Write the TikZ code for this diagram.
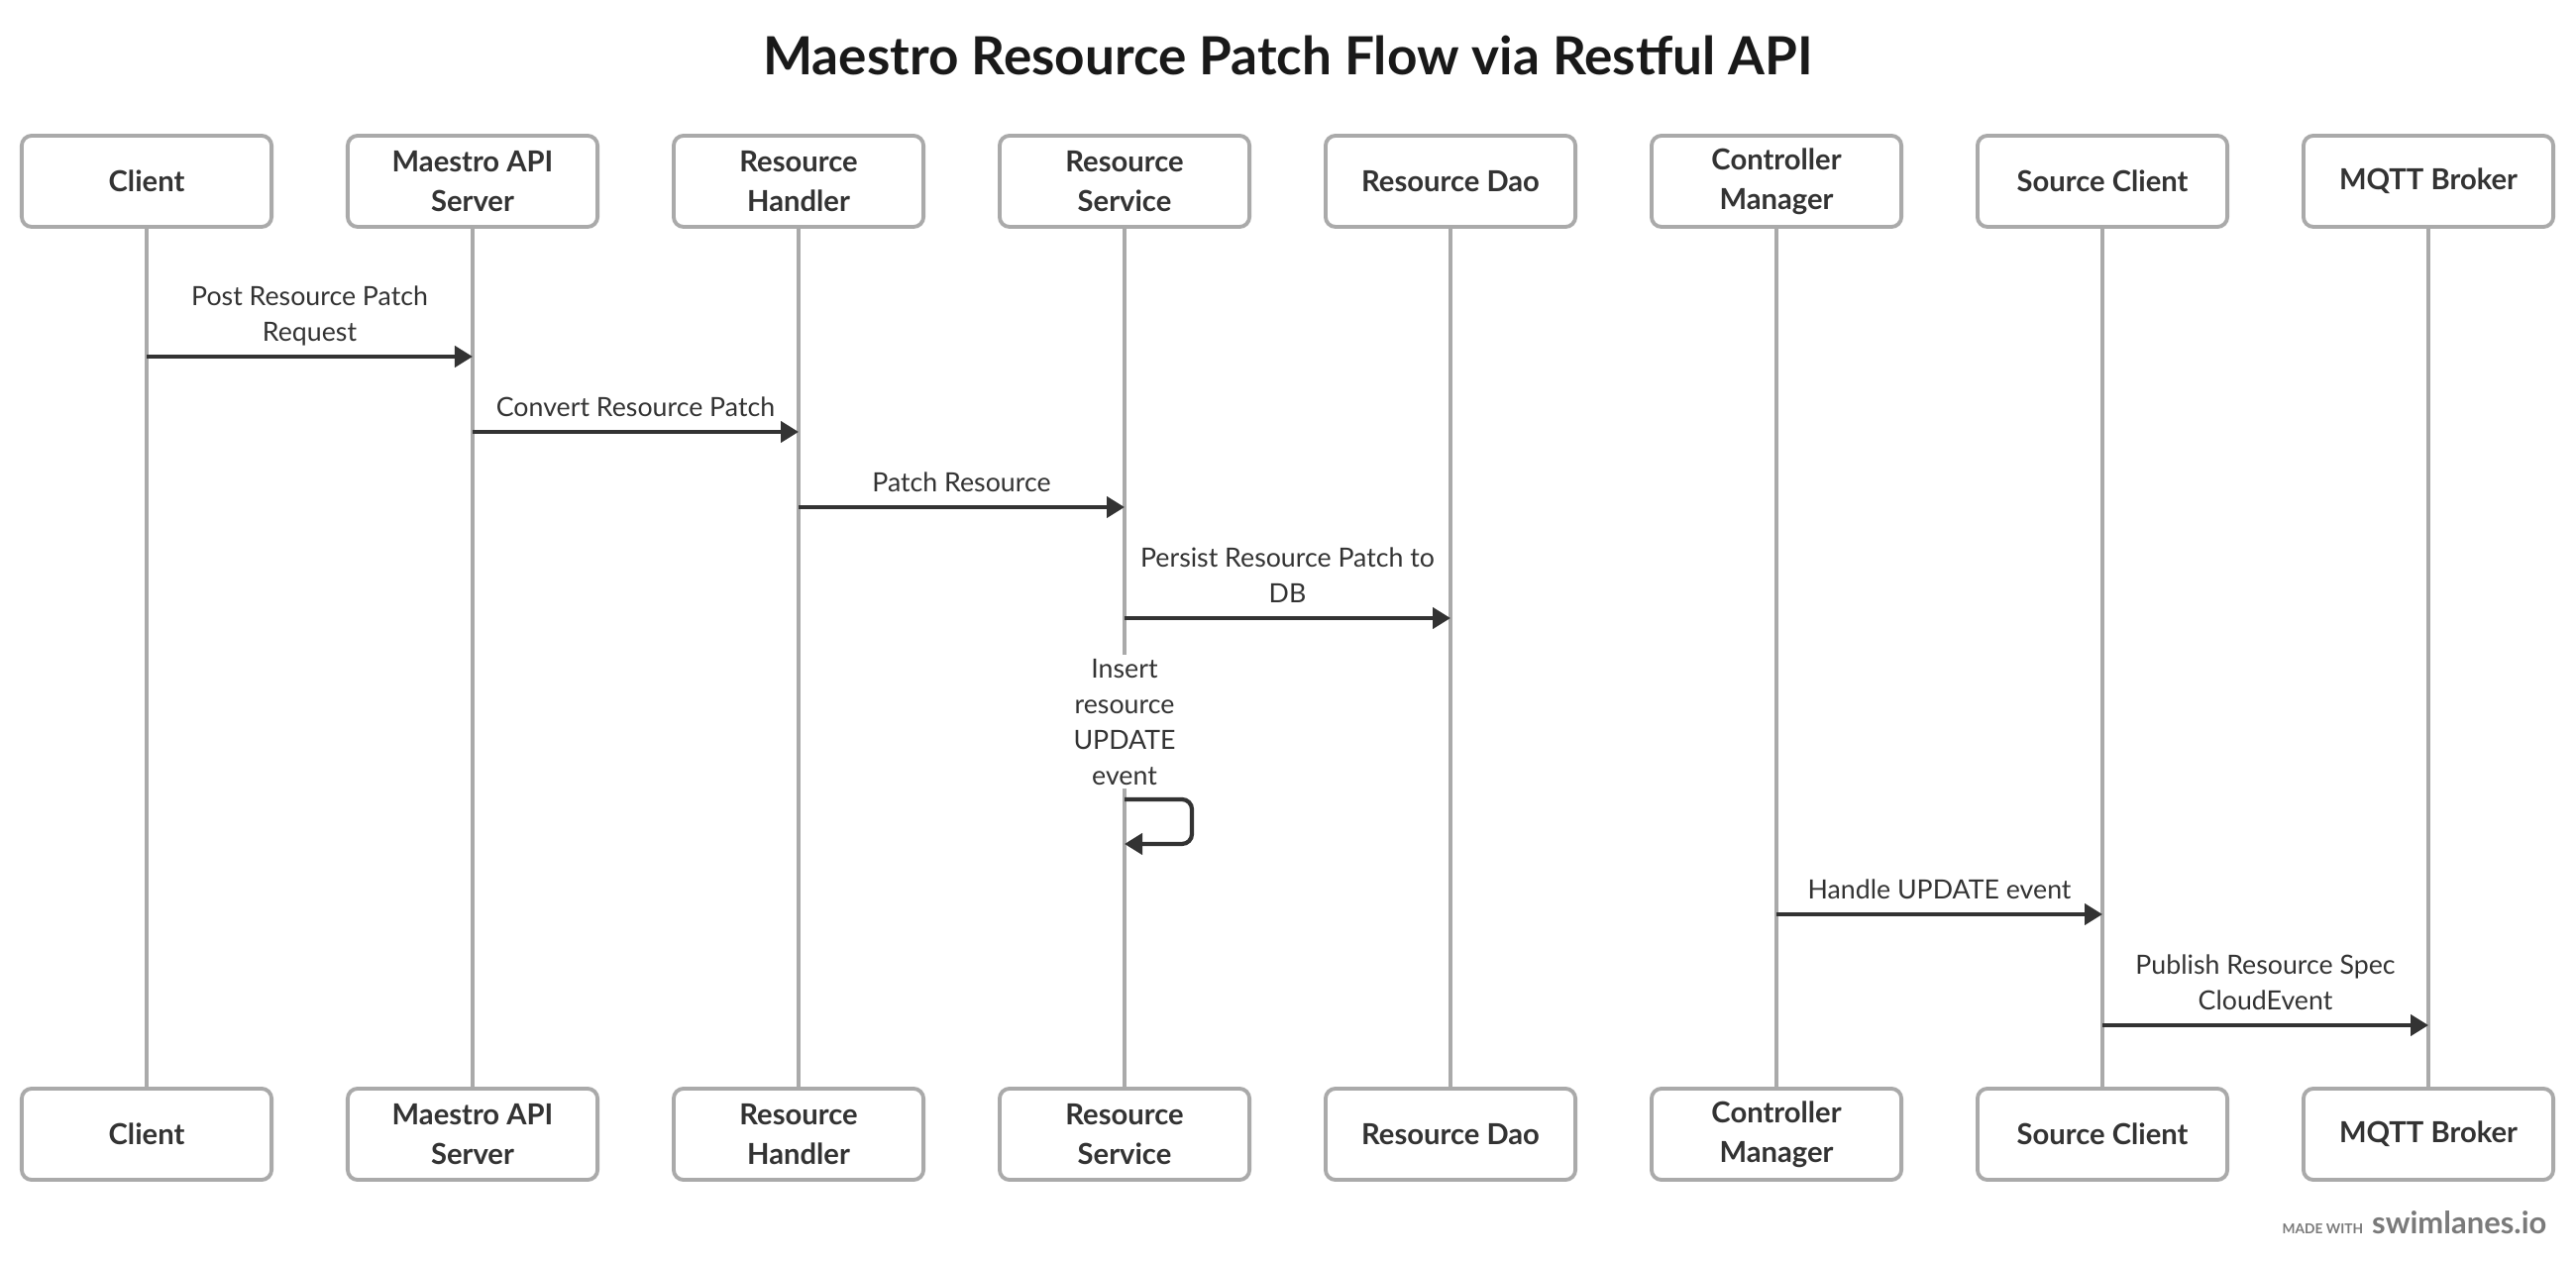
\documentclass[tikz,border=0pt]{standalone}
\usepackage{fontspec}
\setmainfont{Lato}
\usetikzlibrary{arrows.meta}
\definecolor{lifegray}{HTML}{AAAAAA}
\definecolor{inkgray}{HTML}{333333}
\definecolor{footgray}{HTML}{7A7A7A}

\begin{document}
\begin{tikzpicture}[x=0.01cm, y=-0.01cm,
		actor/.style={draw=lifegray, line width=1.1pt, rounded corners=0.1cm, fill=white,
			minimum width=2.52cm, minimum height=0.92cm, inner sep=0pt, align=center,
			text=inkgray, font=\bfseries\fontsize{8.3}{11.4}\selectfont},
		life/.style={draw=lifegray, line width=1pt},
		msg/.style={draw=inkgray, line width=1.2pt, -{Triangle[length=0.18cm, width=0.21cm]}},
		lbl/.style={text=inkgray, align=center, inner sep=0pt, font=\fontsize{7.6}{10.2}\selectfont}]
	\useasboundingbox (0,0) rectangle (2600,1274);

	\node[anchor=base, text=black!90, font=\bfseries\fontsize{15.1}{18}\selectfont] (title) at (1300,76)
		{Maestro Resource Patch Flow via Restful API};

	% participants, top and bottom, with their lifelines
	\foreach \name/\x/\txt in {client/148/Client, api/477/Maestro API\\Server,
			handler/806/Resource\\Handler, service/1135/Resource\\Service,
			dao/1464/Resource Dao, ctrl/1793/Controller\\Manager,
			source/2122/Source Client, mqtt/2451/MQTT Broker} {
		\node[actor] (\name) at (\x,183) {\txt};
		\node[actor] (\name-b) at (\x,1145) {\txt};
		\draw[life] (\name) -- (\name-b);
	}

	% message rows
	\foreach \r/\y in {1/360, 2/436, 3/512, 4/624, 5/807, 6/923, 7/1035}
		\coordinate (row\r) at (0,\y);

	\draw[msg] (client |- row1) -- node[lbl, above=0.085cm] {Post Resource Patch\\Request} (api |- row1);
	\draw[msg] (api |- row2) -- node[lbl, above=0.135cm] {Convert Resource Patch} (handler |- row2);
	\draw[msg] (handler |- row3) -- node[lbl, above=0.135cm] {Patch Resource} (service |- row3);
	\draw[msg] (service |- row4) -- node[lbl, above=0.135cm] {Persist Resource Patch to\\DB} (dao |- row4);

	\node[lbl, fill=white, inner ysep=0.04cm, above=0.10cm] (evtlbl) at (service |- row5)
		{Insert\\resource\\UPDATE\\event};
	\draw[msg, rounded corners=0.1cm] (service |- row5) -- ++(68,0) -- ++(0,45) -- ++(-68,0);

	\draw[msg] (ctrl |- row6) -- node[lbl, above=0.135cm] {Handle UPDATE event} (source |- row6);
	\draw[msg] (source |- row7) -- node[lbl, above=0.135cm] {Publish Resource Spec\\CloudEvent} (mqtt |- row7);

	\node[anchor=base east, inner sep=0pt, text=footgray, font=\bfseries\fontsize{8.8}{10}\selectfont] (footer) at (2571,1245)
		{{\fontsize{3.9}{5}\selectfont MADE WITH}\hspace{0.09cm}swimlanes.io};
\end{tikzpicture}
\end{document}
